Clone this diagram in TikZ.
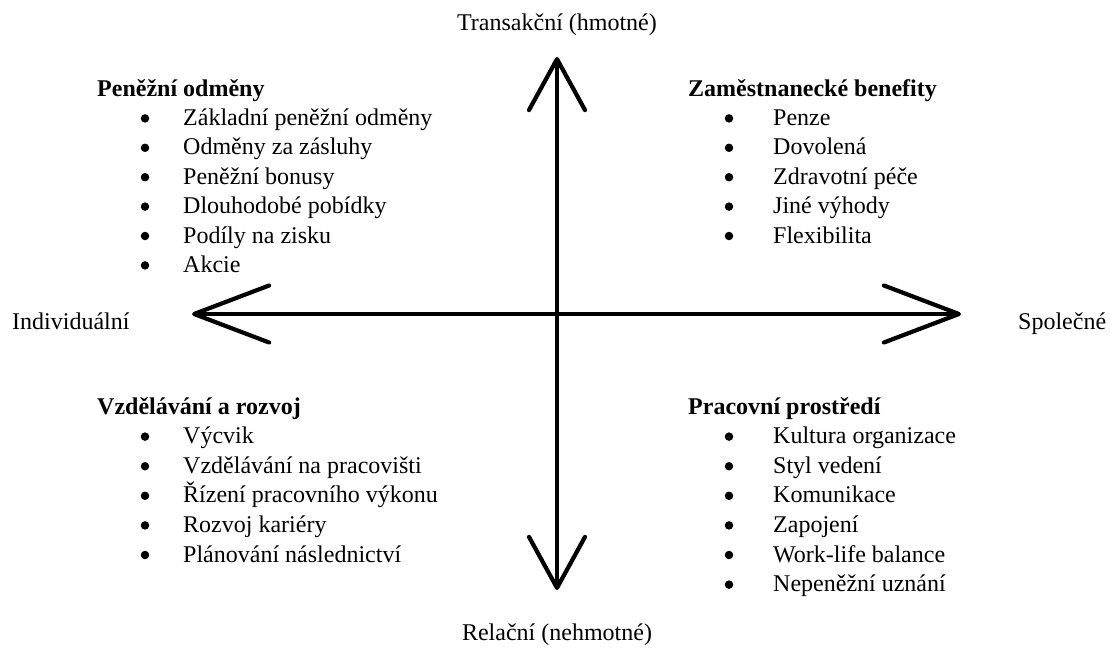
\documentclass[tikz,border=0pt]{standalone}
\usepackage{fontspec}
\setmainfont{Liberation Serif}
\usetikzlibrary{arrows.meta}
\tikzset{
    axis/.style={line width=3.2pt, line cap=round},
    harrow/.style={-{Straight Barb[length=75pt,width=57pt,line width=4.2pt,round]}},
    varrow/.style={-{Straight Barb[length=51pt,width=56pt,line width=4.2pt,round]}},
    txt/.style={inner sep=0pt, anchor=base west, font=\fontsize{24}{30}\selectfont},
    head/.style={txt, font=\fontsize{24}{30}\selectfont\bfseries},
    lbl/.style={inner sep=0pt, anchor=base, font=\fontsize{24}{30}\selectfont},
    dot/.style={circle, fill, inner sep=0pt, minimum size=8.5pt}
}
\begin{document}
\begin{tikzpicture}[x=1pt,y=-1pt]
    \useasboundingbox (0,0) rectangle (1110,648);

    \coordinate (O) at (557,314);
    \coordinate (T) at (557,57);
    \coordinate (B) at (557,590);
    \coordinate (L) at (192,314);
    \coordinate (R) at (961,314);

    \draw[axis,varrow] (O) -- (T);
    \draw[axis,varrow] (O) -- (B);
    \draw[axis,harrow] (O) -- (L);
    \draw[axis,harrow] (O) -- (R);

    \node[lbl] (top) at (557,30) {Transakční (hmotné)};
    \node[lbl] (bottom) at (557,640) {Relační (nehmotné)};
    \node[txt] (left) at (12,329) {Individuální};
    \node[txt] (right) at (1018,329) {Společné};

    \node[head] (pen) at (97,96) {Peněžní odměny};
    \foreach \t [count=\i] in {Základní peněžní odměny, Odměny za zásluhy,
        Peněžní bonusy, Dlouhodobé pobídky, Podíly na zisku, Akcie} {
        \node[dot] (pen-b\i) at (145,{89+29.4*\i}) {};
        \node[txt] (pen-\i) at (183,{96+29.4*\i}) {\t}; }

    \node[head] (zam) at (688,96) {Zaměstnanecké benefity};
    \foreach \t [count=\i] in {Penze, Dovolená, Zdravotní péče,
        Jiné výhody, Flexibilita} {
        \node[dot] (zam-b\i) at (729,{89+29.4*\i}) {};
        \node[txt] (zam-\i) at (773,{96+29.4*\i}) {\t}; }

    \node[head] (vzd) at (97,414) {Vzdělávání a rozvoj};
    \foreach \t [count=\i] in {Výcvik, Vzdělávání na pracovišti,
        Řízení pracovního výkonu, Rozvoj kariéry, Plánování následnictví} {
        \node[dot] (vzd-b\i) at (145,{407+29.6*\i}) {};
        \node[txt] (vzd-\i) at (183,{414+29.6*\i}) {\t}; }

    \node[head] (pra) at (688,414) {Pracovní prostředí};
    \foreach \t [count=\i] in {Kultura organizace, Styl vedení, Komunikace,
        Zapojení, Work-life balance, Nepeněžní uznání} {
        \node[dot] (pra-b\i) at (729,{407+29.6*\i}) {};
        \node[txt] (pra-\i) at (773,{414+29.6*\i}) {\t}; }
\end{tikzpicture}
\end{document}
